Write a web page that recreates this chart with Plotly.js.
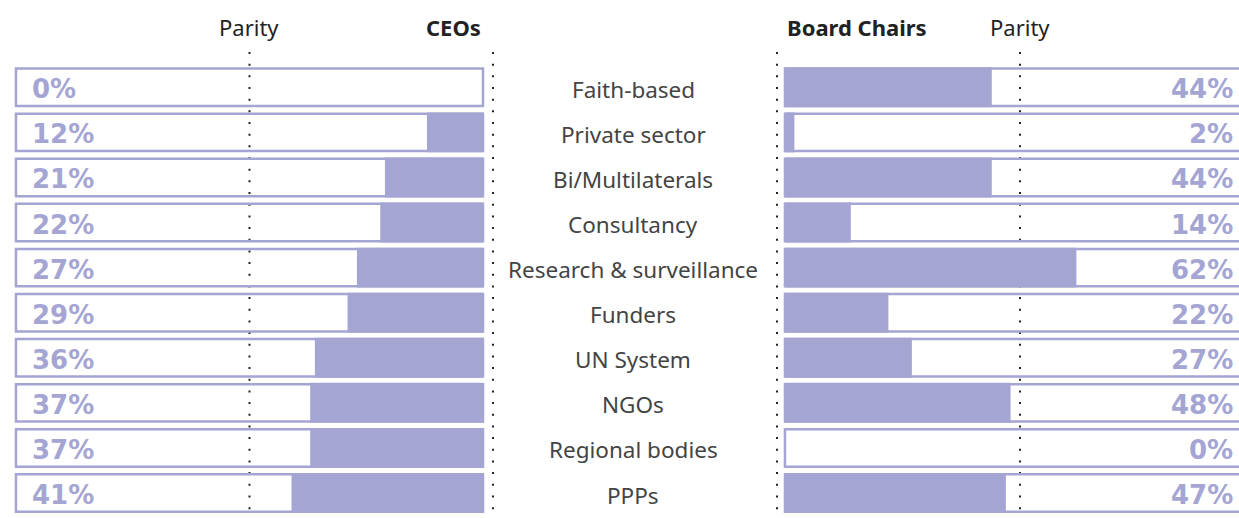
<!DOCTYPE html>
<html>
<head>
<meta charset="utf-8">
<script src="https://cdn.plot.ly/plotly-3.0.1.min.js"></script>
<style>
  html, body { margin: 0; padding: 0; background: #ffffff; }
  #chart { width: 1239px; height: 518px; }
</style>
</head>
<body>
<div id="chart"></div>
<script>
// ---- Data ----
const categories = ["Faith-based", "Private sector", "Bi/Multilaterals", "Consultancy",
  "Research & surveillance", "Funders", "UN System", "NGOs", "Regional bodies", "PPPs"];
const ceoValues = [0, 12, 21, 22, 27, 29, 36, 37, 37, 41];
const chairValues = [44, 2, 44, 14, 62, 22, 27, 48, 0, 47];
const parity = 50;
const fullScale = 100;
const leftTitle = "CEOs";
const rightTitle = "Board Chairs";
const parityLabel = "Parity";

// ---- Styling ----
const W = 1239, H = 518;
const barColor = "#a4a5d3";
const labelFont = "Noto Sans, Open Sans, sans-serif";
const pctFont = "DejaVu Sans, sans-serif";

const fullArr = categories.map(() => fullScale);

function outline(xa) {
  return {
    type: "bar", orientation: "h", x: fullArr, y: categories, xaxis: xa, yaxis: "y",
    width: 0.83,
    marker: { color: "rgba(0,0,0,0)", line: { color: barColor, width: 2.5 } },
    hoverinfo: "skip", showlegend: false
  };
}
function filled(xa, vals) {
  return {
    type: "bar", orientation: "h", x: vals, y: categories, xaxis: xa, yaxis: "y",
    width: 0.887,
    marker: { color: barColor, line: { width: 0 } },
    hoverinfo: "skip", showlegend: false
  };
}

const traces = [
  outline("x"), filled("x", ceoValues),
  outline("x2"), filled("x2", chairValues)
];

const dotDash = "2px,9.67px";
const dotLine = { color: "#222", width: 2, dash: dotDash };
const shapes = [
  { type: "line", xref: "x", yref: "paper", x0: parity, x1: parity, y0: 1, y1: 0, line: dotLine, layer: "below" },
  { type: "line", xref: "x2", yref: "paper", x0: parity, x1: parity, y0: 1, y1: 0, line: dotLine, layer: "below" },
  { type: "line", xref: "paper", yref: "paper", x0: 493 / W, x1: 493 / W, y0: 1, y1: 0, line: dotLine, layer: "below" },
  { type: "line", xref: "paper", yref: "paper", x0: 777 / W, x1: 777 / W, y0: 1, y1: 0, line: dotLine, layer: "below" }
];

const annotations = [];
categories.forEach((c, i) => {
  annotations.push({ xref: "paper", yref: "y", x: 633 / W, y: c, yshift: -2, text: c, showarrow: false,
    xanchor: "center", yanchor: "middle", font: { family: labelFont, size: 22.5, color: "#444" } });
  annotations.push({ xref: "paper", yref: "y", x: 30 / W, y: c, yshift: -2, text: ceoValues[i] + "%", showarrow: false,
    xanchor: "left", yanchor: "middle", font: { family: pctFont, size: 26, color: barColor, weight: 700 } });
  annotations.push({ xref: "paper", yref: "y", x: 1235 / W, y: c, yshift: -2, text: chairValues[i] + "%", showarrow: false,
    xanchor: "right", yanchor: "middle", font: { family: pctFont, size: 26, color: barColor, weight: 700 } });
});
const headFont = { family: labelFont, size: 22, color: "#222" };
annotations.push({ xref: "x", yref: "paper", x: parity, y: 1, yshift: 25, text: parityLabel, showarrow: false,
  xanchor: "center", yanchor: "middle", font: headFont });
annotations.push({ xref: "x2", yref: "paper", x: parity, y: 1, yshift: 25, text: parityLabel, showarrow: false,
  xanchor: "center", yanchor: "middle", font: headFont });
annotations.push({ xref: "x", yref: "paper", x: 0, y: 1, yshift: 25, text: "<b>" + leftTitle + "</b>", showarrow: false,
  xanchor: "right", yanchor: "middle", font: headFont });
annotations.push({ xref: "x2", yref: "paper", x: 0, y: 1, yshift: 25, text: "<b>" + rightTitle + "</b>", showarrow: false,
  xanchor: "left", yanchor: "middle", font: headFont });

const hiddenAxis = { showgrid: false, zeroline: false, showticklabels: false, showline: false, ticks: "", fixedrange: true };

const layout = {
  width: W, height: H,
  margin: { l: 0, r: 0, t: 52, b: 0, pad: 0 },
  paper_bgcolor: "#ffffff", plot_bgcolor: "rgba(0,0,0,0)",
  barmode: "overlay",
  showlegend: false,
  xaxis: Object.assign({}, hiddenAxis, { domain: [10 / W, 488 / W], range: [101.28, -1.07], anchor: "y" }),
  xaxis2: Object.assign({}, hiddenAxis, { domain: [780 / W, 1], range: [-1.06, 96.6], anchor: "y" }),
  yaxis: Object.assign({}, hiddenAxis, { type: "category", categoryorder: "array", categoryarray: categories,
    range: [9.554, -0.783] }),
  shapes: shapes,
  annotations: annotations
};

Plotly.newPlot("chart", traces, layout, { staticPlot: true, displayModeBar: false });
</script>
</body>
</html>
